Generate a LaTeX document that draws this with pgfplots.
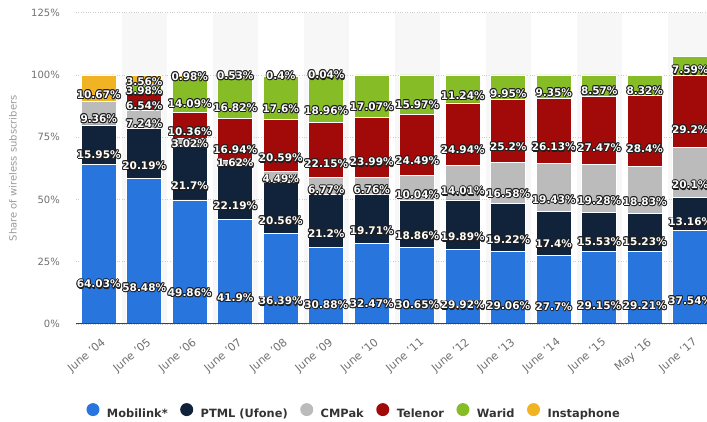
\documentclass[border=0pt]{standalone}
\usepackage{pgfplots}
\pgfplotsset{compat=1.18}
\usepackage{pgfplotstable}
\usepackage{fontspec}
\setmainfont{DejaVu Sans}

\definecolor{cMob}{HTML}{2876DD}
\definecolor{cPtml}{HTML}{10233B}
\definecolor{cCmp}{HTML}{BBBBBB}
\definecolor{cTel}{HTML}{A20A0A}
\definecolor{cWar}{HTML}{86BC25}
\definecolor{cIns}{HTML}{F0B323}
\definecolor{band}{HTML}{F7F7F7}
\definecolor{gridc}{HTML}{CCCCCC}
\definecolor{tickc}{HTML}{707070}
\definecolor{ylabc}{HTML}{999999}
\definecolor{legc}{HTML}{333333}
\definecolor{olc}{HTML}{1E1E1E}
\definecolor{axc}{HTML}{444444}

\newbox\olbox
\newcommand\olab[1]{\setbox\olbox=\hbox{#1}%
\rlap{\textcolor{olc}{\kern-.9pt\copy\olbox}}%
\rlap{\textcolor{olc}{\kern.9pt\copy\olbox}}%
\rlap{\textcolor{olc}{\raise.9pt\copy\olbox}}%
\rlap{\textcolor{olc}{\lower.9pt\copy\olbox}}%
\rlap{\textcolor{olc}{\kern-.65pt\raise.65pt\copy\olbox}}%
\rlap{\textcolor{olc}{\kern.65pt\raise.65pt\copy\olbox}}%
\rlap{\textcolor{olc}{\kern-.65pt\lower.65pt\copy\olbox}}%
\rlap{\textcolor{olc}{\kern.65pt\lower.65pt\copy\olbox}}%
\rlap{\textcolor{olc}{\kern.6pt\lower1.4pt\copy\olbox}}%
\textcolor{white}{\copy\olbox}}

\pgfplotstableread{
x mob ptml cmpak tel warid insta
0 64.03 15.95 9.36 0 0 10.67
1 58.48 20.19 7.24 6.54 3.98 3.56
2 49.86 21.7 3.02 10.36 14.09 0.98
3 41.9 22.19 1.62 16.94 16.82 0.53
4 36.39 20.56 4.49 20.59 17.6 0.4
5 30.88 21.2 6.77 22.15 18.96 0.04
6 32.47 19.71 6.76 23.99 17.07 0
7 30.65 18.86 10.04 24.49 15.97 0
8 29.92 19.89 14.01 24.94 11.24 0
9 29.06 19.22 16.58 25.2 9.95 0
10 27.7 17.4 19.43 26.13 9.35 0
11 29.15 15.53 19.28 27.47 8.57 0
12 29.21 15.23 18.83 28.4 8.32 0
13 37.54 13.16 20.1 29.2 7.59 0
}\data

\pgfplotsset{
  common/.style={
    x=45.5pt, y=2.49pt,
    xmin=-0.5, xmax=13.5, ymin=0, ymax=125,
    enlargelimits=false,
    ybar stacked, bar width=35pt,
    at={(0pt,0pt)}, anchor=south west,
  },
  circleg/.style={legend image code/.code={\fill[##1,draw=none] (0pt,4.2pt) circle (6.5pt);}},
  seg/.style={fill=#1, draw=white, line width=0.6pt, circleg},
  lab/.style={draw=none, fill=none,
    visualization depends on=rawy\as\rawy,
    nodes near coords={\ifdim\rawy pt>0pt\olab{\pgfmathprintnumber[fixed,precision=2,assume math mode=true]{\rawy}\%}\fi},
    every node near coord/.append style={anchor=center, inner sep=0pt,
      yshift={-0.6225pt*\rawy}, font=\bfseries\fontsize{10.5}{12}\selectfont},
  },
}

\begin{document}
\begin{tikzpicture}
% background bands
\begin{axis}[common, hide axis]
\fill[band] (axis cs:0.5,0) rectangle (axis cs:1.5,125);
\fill[band] (axis cs:2.5,0) rectangle (axis cs:3.5,125);
\fill[band] (axis cs:4.5,0) rectangle (axis cs:5.5,125);
\fill[band] (axis cs:6.5,0) rectangle (axis cs:7.5,125);
\fill[band] (axis cs:8.5,0) rectangle (axis cs:9.5,125);
\fill[band] (axis cs:10.5,0) rectangle (axis cs:11.5,125);
\fill[band] (axis cs:12.5,0) rectangle (axis cs:13.5,125);
\end{axis}
% bars
\begin{axis}[common,
  axis x line*=bottom, axis y line*=left,
  axis line style={draw=none},
  major tick length=0pt,
  ytick={0,25,50,75,100,125},
  yticklabels={0\%,25\%,50\%,75\%,100\%,125\%},
  xtick={0,...,13},
  xticklabels={June '04,June '05,June '06,June '07,June '08,June '09,June '10,June '11,June '12,June '13,June '14,June '15,May '16,June '17},
  ymajorgrids,
  major grid style={gridc, dotted, line width=0.7pt},
  yticklabel style={font=\fontsize{10}{12}\selectfont, text=tickc, inner sep=0pt, anchor=east},
  yticklabel shift=16pt,
  xticklabel style={font=\fontsize{11}{13}\selectfont, text=tickc, inner sep=0pt, xshift=2pt, yshift=-13pt, rotate=40, anchor=north east},
  ylabel={Share of wireless subscribers},
  every axis y label/.style={at={(axis description cs:0,0.5)}, xshift=-63pt, rotate=90, anchor=center, font=\fontsize{10}{12}\selectfont, text=ylabc},
  legend style={at={(axis description cs:0.01648,-0.2795)}, anchor=west,
    legend columns=6, draw=none, fill=none, inner sep=0pt, outer sep=0pt,
    font=\bfseries\fontsize{11.4}{13}\selectfont, text=legc,
    nodes={inner sep=0pt},
    /tikz/every odd column/.append style={column sep=7.5pt},
    /tikz/every even column/.append style={column sep=12.5pt}},
  legend cell align=left,
]
\addplot[seg=cMob] table[x=x,y=mob] {\data};
\addlegendentry{Mobilink*}
\addplot[seg=cPtml] table[x=x,y=ptml] {\data};
\addlegendentry{PTML (Ufone)}
\addplot[seg=cCmp] table[x=x,y=cmpak] {\data};
\addlegendentry{CMPak}
\addplot[seg=cTel] table[x=x,y=tel] {\data};
\addlegendentry{Telenor}
\addplot[seg=cWar] table[x=x,y=warid] {\data};
\addlegendentry{Warid}
\addplot[seg=cIns] table[x=x,y=insta] {\data};
\addlegendentry{Instaphone}
\end{axis}
% labels and baseline on top
\begin{axis}[common, hide axis]
\draw[axc, line width=1.4pt] (axis cs:-0.5,0) -- (axis cs:13.5,0);
\addplot[lab] table[x=x,y=mob] {\data};
\addplot[lab] table[x=x,y=ptml] {\data};
\addplot[lab] table[x=x,y=cmpak] {\data};
\addplot[lab] table[x=x,y=tel] {\data};
\addplot[lab] table[x=x,y=warid] {\data};
\addplot[lab] table[x=x,y=insta] {\data};
\end{axis}
\pgfresetboundingbox
\useasboundingbox (-76pt,-98pt) rectangle (631pt,324pt);
\end{tikzpicture}
\end{document}
